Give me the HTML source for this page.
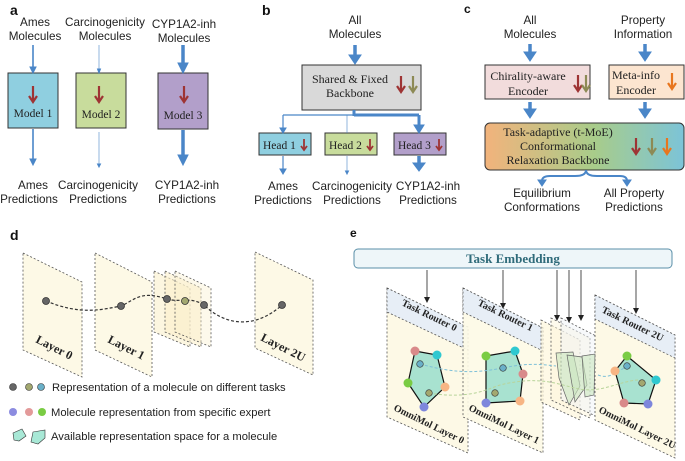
<!DOCTYPE html>
<html><head><meta charset="utf-8"><style>
html,body{margin:0;padding:0;background:#fff;}
svg{display:block;}
.s{font-family:"Liberation Sans",sans-serif;font-size:11.7px;fill:#222;}
.r{font-family:"Liberation Serif",serif;font-size:12px;fill:#222;}
.b{font-family:"Liberation Sans",sans-serif;font-size:14px;font-weight:bold;fill:#111;}
</style></head><body>
<svg width="685" height="461" viewBox="0 0 685 461" xmlns="http://www.w3.org/2000/svg">
<defs>
<marker id="ak" markerWidth="6" markerHeight="6" refX="5" refY="3" orient="auto" markerUnits="userSpaceOnUse"><path d="M0,0 L6,3 L0,6 z" fill="#222"/></marker>
<linearGradient id="g" x1="0" x2="1" y1="0" y2="0"><stop offset="0" stop-color="#f2b37c"/><stop offset="0.55" stop-color="#a8cc8a"/><stop offset="1" stop-color="#7cc4d8"/></linearGradient>
<g id="dn"><path d="M0,-8 V6" stroke-width="2.2"/><path d="M-4,2 L0,8 L4,2" fill="none" stroke-width="2.2"/></g>
<g id="dns"><path d="M0,-6 V4" stroke-width="1.8"/><path d="M-3,1 L0,5 L3,1" fill="none" stroke-width="1.8"/></g>
</defs>
<!-- Panel a -->
<text x="10" y="15" class="b">a</text>
<g class="s" text-anchor="middle">
<text x="35" y="26">Ames</text><text x="35" y="40">Molecules</text>
<text x="105" y="26">Carcinogenicity</text><text x="105" y="40">Molecules</text>
<text x="184" y="28">CYP1A2-inh</text><text x="184" y="42">Molecules</text>
<text x="33" y="189">Ames</text><text x="29" y="203">Predictions</text>
<text x="98" y="189">Carcinogenicity</text><text x="98" y="203">Predictions</text>
<text x="187" y="189">CYP1A2-inh</text><text x="187" y="203">Predictions</text>
</g>
<rect x="8" y="73" width="50" height="55" fill="#8fcfe0" stroke="#333"/>
<rect x="76" y="73" width="50" height="55" fill="#c8dc9c" stroke="#333"/>
<rect x="158" y="73" width="50" height="56" fill="#b29fca" stroke="#333"/>
<g class="r" text-anchor="middle" style="font-size:11.5px"><text x="33" y="117">Model 1</text><text x="101" y="118">Model 2</text><text x="183" y="119">Model 3</text></g>
<g stroke="#9e3434" fill="none"><use href="#dn" x="33" y="94"/><use href="#dn" x="99" y="94"/><use href="#dn" x="184" y="94"/></g>
<g stroke="#4a86c8" fill="#4a86c8">
<line x1="33" y1="45" x2="33" y2="68" stroke-width="1.6"/><path d="M30,67 L36,67 L33,73z"/>
<line x1="33" y1="129" x2="33" y2="160" stroke-width="1.6"/><path d="M30,159 L36,159 L33,165z"/>
<line x1="99" y1="45" x2="99" y2="70" stroke-width="0.6"/><path d="M97.5,69 L100.5,69 L99,73z"/>
<line x1="99" y1="132" x2="99" y2="164" stroke-width="0.6"/><path d="M97.5,164 L100.5,164 L99,167z"/>
<line x1="183" y1="45" x2="183" y2="64" stroke-width="3.5"/><path d="M178,63 L188,63 L183,73z"/>
<line x1="183" y1="130" x2="183" y2="156" stroke-width="3.5"/><path d="M178,155 L188,155 L183,165z"/>
</g>
<!-- Panel b -->
<text x="262" y="15" class="b">b</text>
<g class="s" text-anchor="middle">
<text x="355" y="24">All</text><text x="355" y="38">Molecules</text>
<text x="283" y="190">Ames</text><text x="283" y="204">Predictions</text>
<text x="352" y="190">Carcinogenicity</text><text x="352" y="204">Predictions</text>
<text x="428" y="190">CYP1A2-inh</text><text x="428" y="204">Predictions</text>
</g>
<rect x="302" y="65" width="119" height="45" fill="#d9d9d9" stroke="#333"/>
<g class="r" text-anchor="middle"><text x="350" y="83">Shared &amp; Fixed</text><text x="350" y="97">Backbone</text></g>
<g fill="none"><use href="#dn" x="401" y="84" stroke="#9e3434"/><use href="#dn" x="413" y="84" stroke="#8d8a55"/></g>
<rect x="259" y="133" width="52" height="22" fill="#8fcfe0" stroke="#333"/>
<rect x="325" y="133" width="52" height="22" fill="#c8dc9c" stroke="#333"/>
<rect x="394" y="133" width="52" height="22" fill="#b29fca" stroke="#333"/>
<g class="r" style="font-size:11.5px"><text x="263" y="149">Head 1</text><text x="329" y="149">Head 2</text><text x="398" y="149">Head 3</text></g>
<g fill="none" stroke="#9e3434"><use href="#dns" x="304" y="145"/><use href="#dns" x="370" y="145"/><use href="#dns" x="439" y="145"/></g>
<g stroke="#4a86c8" fill="#4a86c8">
<line x1="355" y1="45" x2="355" y2="56" stroke-width="3.5"/><path d="M349,55 L361,55 L355,64z"/>
<line x1="354" y1="110" x2="354" y2="116" stroke-width="3"/>
<line x1="283" y1="115" x2="354" y2="115" stroke-width="1.2"/>
<line x1="283" y1="115" x2="283" y2="129" stroke-width="1.2"/><path d="M280,128 L286,128 L283,133z"/>
<line x1="347" y1="115" x2="347" y2="133" stroke-width="0.6"/>
<line x1="354" y1="115" x2="419" y2="115" stroke-width="3"/>
<line x1="419" y1="115" x2="419" y2="126" stroke-width="3"/><path d="M414,125 L424,125 L419,133z"/>
<line x1="283" y1="156" x2="283" y2="170" stroke-width="1.2"/><path d="M280,169 L286,169 L283,174z"/>
<line x1="347" y1="156" x2="347" y2="172" stroke-width="0.6"/><path d="M345.5,171 L348.5,171 L347,174z"/>
<line x1="419" y1="156" x2="419" y2="164" stroke-width="3.5"/><path d="M413,163 L425,163 L419,171z"/>
</g>
<!-- Panel c -->
<text x="464" y="13" class="b" style="font-size:12px">c</text>
<g class="s" text-anchor="middle">
<text x="530" y="24">All</text><text x="530" y="38">Molecules</text>
<text x="643" y="24">Property</text><text x="643" y="38">Information</text>
<text x="542" y="197">Equilibrium</text><text x="542" y="211">Conformations</text>
<text x="634" y="197">All Property</text><text x="634" y="211">Predictions</text>
</g>
<rect x="485" y="65" width="105" height="34" fill="#f2dcdc" stroke="#333"/>
<rect x="609" y="65" width="75" height="34" fill="#fce5d0" stroke="#333"/>
<g class="r" text-anchor="middle"><text x="528" y="80">Chirality-aware</text><text x="528" y="95">Encoder</text>
<text x="636" y="79">Meta-info</text><text x="636" y="94">Encoder</text></g>
<g fill="none"><use href="#dn" x="578" y="83" stroke="#9e3434"/><use href="#dn" x="586" y="83" stroke="#8d8a55"/><use href="#dn" x="672" y="81" stroke="#e8761e"/></g>
<rect x="485" y="123" width="199" height="47" rx="5" fill="url(#g)" stroke="#333"/>
<g class="r" text-anchor="middle"><text x="558" y="136">Task-adaptive (t-MoE)</text><text x="558" y="150">Conformational</text><text x="558" y="164">Relaxation Backbone</text></g>
<g fill="none"><use href="#dn" x="636" y="146" stroke="#9e3434"/><use href="#dn" x="652" y="146" stroke="#8d8a55"/><use href="#dn" x="667" y="146" stroke="#e8761e"/></g>
<g stroke="#4a86c8" fill="#4a86c8">
<line x1="530" y1="44" x2="530" y2="53" stroke-width="3.5"/><path d="M524,52 L536,52 L530,61z"/>
<line x1="645" y1="44" x2="645" y2="53" stroke-width="3.5"/><path d="M639,52 L651,52 L645,61z"/>
<line x1="530" y1="102" x2="530" y2="110" stroke-width="3.5"/><path d="M524,109 L536,109 L530,118z"/>
<line x1="645" y1="102" x2="645" y2="110" stroke-width="3.5"/><path d="M639,109 L651,109 L645,118z"/>
<path d="M586,170 Q586,176 575,176 L550,176 Q542,176 542,181 M586,170 Q586,176 597,176 L620,176 Q627,176 627,181" fill="none" stroke-width="2"/>
<path d="M538,180 L546,180 L542,186z"/><path d="M623,180 L631,180 L627,186z"/>
</g>
<!-- Panel d -->
<text x="10" y="240" class="b">d</text>
<g stroke="#555" stroke-dasharray="2,2" stroke-width="0.8" fill="#fdf9e6">
<path d="M23,253 L82,282 L82,377 L23,350z"/>
<path d="M95,253 L152,282 L152,377 L95,350z"/>
<path d="M154,271 L190,288 L190,347 L154,332z" fill="#fbf4d8" fill-opacity="0.8"/>
<path d="M165,271 L201,288 L201,347 L165,332z" fill="#fbf0cc" fill-opacity="0.6"/>
<path d="M175,271 L211,288 L211,347 L175,332z" fill="#fbf0cc" fill-opacity="0.4"/>
<path d="M255,252 L313,280 L313,375 L255,348z"/>
</g>
<path d="M46,301 C80,315 100,310 121,306 C135,300 140,290 167,299 C180,303 190,296 204,305 C230,330 260,325 282,305" fill="none" stroke="#333" stroke-dasharray="3,2" stroke-width="1.2"/>
<g stroke="#333" stroke-width="0.8"><circle cx="46" cy="301" r="3.5" fill="#666"/><circle cx="121" cy="306" r="3.5" fill="#666"/><circle cx="167" cy="299" r="3.5" fill="#666"/><circle cx="185" cy="301" r="3.5" fill="#a3a870"/><circle cx="204" cy="305" r="3.5" fill="#666"/><circle cx="282" cy="305" r="3.5" fill="#666"/></g>
<g class="r" style="font-size:12px;font-weight:bold">
<text transform="translate(35,342) rotate(27)">Layer 0</text>
<text transform="translate(107,342) rotate(27)">Layer 1</text>
<text transform="translate(260,340) rotate(27)">Layer 2U</text>
</g>
<g stroke="#333" stroke-width="0.6"><circle cx="13" cy="387" r="3.5" fill="#666"/><circle cx="29" cy="387" r="3.5" fill="#a3a870"/><circle cx="41" cy="387" r="3.5" fill="#6ab0c8"/></g>
<circle cx="13" cy="412" r="4" fill="#8c8ce0"/><circle cx="29" cy="412" r="4" fill="#e39a9a"/><circle cx="42" cy="412" r="4" fill="#7acc44"/>
<path d="M13,433 L22,429 L26,436 L19,441 L14,440z" fill="#a8e8d6" stroke="#333" stroke-width="0.6"/>
<path d="M33,432 L45,430 L45,438 L38,444 L31,442z" fill="#a8e8d6" stroke="#333" stroke-width="0.6"/>
<g class="s" style="font-size:11.2px"><text x="52" y="391">Representation of a molecule on different tasks</text>
<text x="51" y="416">Molecule representation from specific expert</text>
<text x="51" y="440">Available representation space for a molecule</text></g>
<!-- Panel e -->
<text x="350" y="237" class="b" style="font-size:12px">e</text>
<rect x="354" y="249" width="318" height="19" rx="4" fill="#eef6f9" stroke="#5a8fa8"/>
<text x="513" y="263" text-anchor="middle" class="r" style="font-weight:bold;fill:#2f6b7a;font-size:13px">Task Embedding</text>
<g stroke="#222" stroke-width="0.8" marker-end="url(#ak)">
<line x1="427" y1="270" x2="427" y2="302"/><line x1="503" y1="270" x2="503" y2="308"/>
<line x1="557" y1="270" x2="557" y2="320"/><line x1="569" y1="270" x2="569" y2="322"/>
<line x1="581" y1="270" x2="581" y2="320"/><line x1="636" y1="270" x2="636" y2="313"/>
</g>
<g stroke="#555" stroke-dasharray="2,2" stroke-width="0.8">
<path d="M387,288 L468,327 L468,453 L387,417z" fill="#fdf9e6"/>
<path d="M387,288 L468,327 L468,350 L387,312z" fill="#e7eef6"/>
<path d="M463,288 L543,328 L543,453 L463,417z" fill="#fdf9e6" fill-opacity="0.9"/>
<path d="M463,288 L543,328 L543,351 L463,312z" fill="#e7eef6"/>
<path d="M541,320 L580,340 L580,420 L541,402z" fill="#fdf6dc" fill-opacity="0.7"/>
<path d="M551,318 L590,338 L590,418 L551,400z" fill="#fdf6dc" fill-opacity="0.5"/>
<path d="M561,318 L600,338 L600,418 L561,400z" fill="#f0f4f8" fill-opacity="0.5"/>
<path d="M595,295 L675,335 L675,458 L595,420z" fill="#fdf9e6"/>
<path d="M595,295 L675,335 L675,358 L595,319z" fill="#e7eef6"/>
</g>
<g stroke="#666" stroke-width="0.7" fill="#c9e6c0" fill-opacity="0.6">
<path d="M556,353 L573,352 L580,386 L569,405 L559,378z"/>
<path d="M567,355 L582,357 L587,385 L575,402z"/>
<path d="M582,356 L595,354 L594,395 L585,397z"/>
</g>
<g stroke="#111" stroke-width="1.2" fill="#a8e2d0">
<path d="M415,351 L437,355 L445,387 L424,407 L408,383z"/>
<path d="M486,356 L515,351 L523,374 L520,401 L486,403z"/>
<path d="M627,356 L656,380 L648,404 L624,403 L615,371z"/>
</g>
<path d="M420,364 C460,375 480,372 503,368 C530,362 545,365 556,366" fill="none" stroke="#7ec0d8" stroke-dasharray="3,2"/>
<path d="M429,393 C470,400 490,388 500,385 C540,375 560,385 575,388 C600,395 620,380 640,380" fill="none" stroke="#b8d49a" stroke-dasharray="3,2"/>
<path d="M598,375 C610,380 620,370 627,366" fill="none" stroke="#7ec0d8" stroke-dasharray="3,2"/>
<g stroke="#333" stroke-width="0.6">
<circle cx="420" cy="364" r="3.3" fill="#6ab0c8"/><circle cx="429" cy="393" r="3.3" fill="#a3a870"/>
<circle cx="503" cy="368" r="3.3" fill="#6ab0c8"/><circle cx="495" cy="393" r="3.3" fill="#a3a870"/>
<circle cx="627" cy="366" r="3.3" fill="#6ab0c8"/><circle cx="642" cy="383" r="3.3" fill="#a3a870"/>
</g>
<g>
<circle cx="415" cy="351" r="4.5" fill="#d98a8a"/><circle cx="437" cy="355" r="4.5" fill="#2fc8d0"/><circle cx="408" cy="383" r="4.5" fill="#7acc44"/><circle cx="445" cy="387" r="4.5" fill="#f7b584"/><circle cx="424" cy="407" r="4.5" fill="#7d86dc"/>
<circle cx="486" cy="356" r="4.5" fill="#7acc44"/><circle cx="515" cy="351" r="4.5" fill="#2fc8d0"/><circle cx="523" cy="374" r="4.5" fill="#d98a8a"/><circle cx="520" cy="401" r="4.5" fill="#f7b584"/><circle cx="486" cy="403" r="4.5" fill="#7d86dc"/>
<circle cx="627" cy="356" r="4.5" fill="#7acc44"/><circle cx="615" cy="371" r="4.5" fill="#f7b584"/><circle cx="656" cy="380" r="4.5" fill="#2fc8d0"/><circle cx="624" cy="403" r="4.5" fill="#d98a8a"/><circle cx="648" cy="404" r="4.5" fill="#7d86dc"/>
</g>
<g class="r" style="font-size:10px;font-weight:bold">
<text transform="translate(401,305) rotate(26)">Task Router 0</text>
<text transform="translate(477,305) rotate(26)">Task Router 1</text>
<text transform="translate(601,312) rotate(26)">Task Router 2U</text>
<text transform="translate(393,410) rotate(26)">OmniMol Layer 0</text>
<text transform="translate(468,410) rotate(26)">OmniMol Layer 1</text>
<text transform="translate(598,412) rotate(26)">OmniMol Layer 2U</text>
</g>
</svg>
</body></html>
